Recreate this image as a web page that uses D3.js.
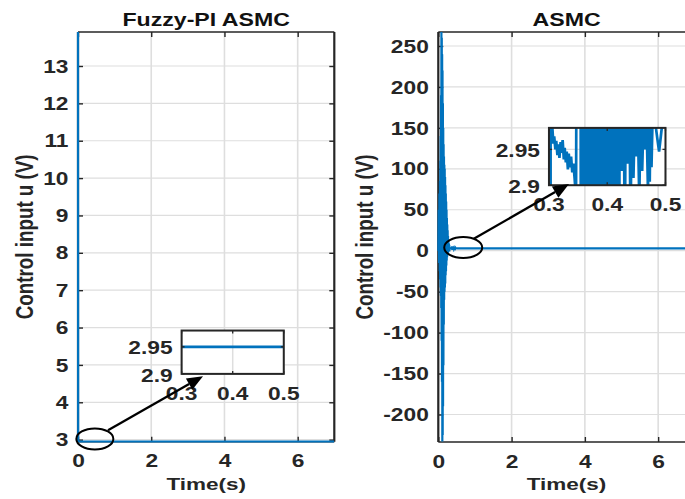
<!DOCTYPE html>
<html>
<head>
<meta charset="utf-8">
<script src="https://cdn.jsdelivr.net/npm/d3@7"></script>
<style>
  body { margin: 0; background: #fff; }
  svg { display: block; }
  text { font-family: "Liberation Sans", Arial, Helvetica, sans-serif; font-weight: bold; }
</style>
</head>
<body>
<svg id="chart" width="685" height="499"></svg>
<script>
// ---------- data ----------
const timeDomain = [0, 7];
const timeTicks = [0, 2, 4, 6];
const fuzzyTicks = [3, 4, 5, 6, 7, 8, 9, 10, 11, 12, 13];
const asmcTicks = [-200, -150, -100, -50, 0, 50, 100, 150, 200, 250];
const insetTimeDomain = [0.3, 0.5];
const insetTimeTicks = [0.3, 0.4, 0.5];
const insetUDomain = [2.9, 2.98];
const insetUTicks = [2.9, 2.95];

// Fuzzy-PI ASMC control input: initial jump, then flat at 2.95 V
const fuzzyTime = [0, 0.004, 0.3, 0.5, 7];
const fuzzyU = [13.91, 2.95, 2.95, 2.95, 2.95];

// ASMC control input samples [time (s), u (V)]
const asmcTrace = [
  [0.000, 0], [0.010, 50], [0.020, -15], [0.030, 70], [0.040, -25], [0.045, 85],
  [0.050, -35], [0.055, 110], [0.060, -45], [0.065, 140], [0.070, -55], [0.075, 190],
  [0.080, -70], [0.085, 267], [0.090, -110], [0.095, 260], [0.100, -160], [0.105, 240],
  [0.110, -233], [0.115, 220], [0.120, -225], [0.125, 180], [0.130, -190], [0.135, 150],
  [0.140, -140], [0.145, 130], [0.150, -90], [0.155, 115], [0.160, -60], [0.165, 105],
  [0.170, -50], [0.175, 100], [0.180, -45], [0.185, 90], [0.190, -40], [0.195, 80],
  [0.200, -30], [0.205, 70], [0.210, -25], [0.215, 60], [0.220, -18], [0.225, 50],
  [0.230, -12], [0.235, 40], [0.240, -8], [0.245, 32], [0.250, -5], [0.255, 25],
  [0.260, -3], [0.265, 18], [0.270, -2], [0.275, 12], [0.280, 0], [0.285, 9],
  [0.290, 1], [0.295, 7],
  [0.3000, 6], [0.3015, -1], [0.3030, 3.5], [0.3055, 2.985], [0.3075, 2.958],
  [0.3090, 2.968], [0.3110, 2.950], [0.3125, 2.962], [0.3145, 2.942], [0.3160, 2.957],
  [0.3180, 2.938], [0.3200, 2.960], [0.3215, 2.945], [0.3235, 2.963], [0.3255, 2.936],
  [0.3270, 2.952], [0.3290, 2.932], [0.3305, 2.947], [0.3325, 2.922], [0.3340, 2.944],
  [0.3360, 2.925], [0.3380, 2.940], [0.3400, 2.918], [0.3420, 2.930], [0.3440, 2.910],
  [0.3465, 2.88], [0.3480, 3.3], [0.3540, 3.4],
  [0.3550, 2.50], [0.3575, 3.60], [0.3600, 2.20], [0.3625, 4.10], [0.3650, 1.90],
  [0.3675, 4.60], [0.3700, 1.60], [0.3725, 5.00], [0.3750, 1.20], [0.3775, 5.30],
  [0.3800, 1.00], [0.3825, 5.50], [0.3850, 0.80], [0.3875, 5.40], [0.3900, 1.00],
  [0.3925, 5.20], [0.3950, 1.30], [0.3975, 4.90], [0.4000, 1.60], [0.4025, 4.60],
  [0.4050, 1.90], [0.4075, 4.20], [0.4100, 2.20], [0.4125, 3.90], [0.4150, 2.40],
  [0.4175, 3.60], [0.4200, 2.60], [0.4225, 3.40], [0.4250, 2.92], [0.4275, 3.20],
  [0.4300, 2.80], [0.4325, 3.10], [0.4350, 2.93], [0.4375, 3.05], [0.4400, 2.85],
  [0.4425, 3.02], [0.4450, 2.91], [0.4475, 3.00], [0.4500, 2.94], [0.4525, 2.99],
  [0.4550, 2.88], [0.4575, 3.01], [0.4600, 2.92], [0.4625, 3.00], [0.4650, 2.95],
  [0.4675, 2.99], [0.4700, 2.89], [0.4715, 3.05], [0.4730, 2.905], [0.4745, 3.02],
  [0.4760, 2.925], [0.4780, 3.00], [0.4820, 2.99], [0.4860, 2.965], [0.4890, 2.947],
  [0.4920, 2.968], [0.4950, 2.99], [0.5000, 2.995], [0.5200, 2.97], [0.6000, 2.952],
  [7.0000, 2.95]
];

// ---------- styling ----------
const BLUE = "#0072BD";
const AXIS = "#262626";
const GRID = "#dedede";
const SX = 1.3;          // horizontal stretch applied to all lettering
const FS_TICK = 17.5;

const svg = d3.select("#chart");
const defs = svg.append("defs");

const panels = [
  {
    title: "Fuzzy-PI ASMC",
    series: d3.zip(fuzzyTime, fuzzyU),
    uDomain: [2.945, 13.91], uTicks: fuzzyTicks,
    box: { left: 78, right: 334.3, top: 32, bottom: 441.7 },
    yLabelX: 33,
    inset: { t: [2.83, 5.62], u: [4.76, 5.92] },
    ring: { t: 0.46, u: 3.02, rx: 18.5, ry: 10.5 },
    arrow: { from: [0.82, 3.25], to: [3.414, 4.70] }
  },
  {
    title: "ASMC",
    series: asmcTrace,
    uDomain: [-233.6, 267.1], uTicks: asmcTicks,
    box: { left: 438.3, right: 694.8, top: 32, bottom: 442 },
    yLabelX: 373,
    inset: { t: [3.02, 6.2], u: [80, 150] },
    ring: { t: 0.68, u: 3.9, rx: 19, ry: 10.5 },
    arrow: { from: [0.97, 14.5], to: [3.567, 81.4] }
  }
];

function stretchText(sel, tx, ty) {
  sel.attr("transform", `translate(${tx},${ty}) scale(${SX},1)`);
}

function styleAxis(a) {
  a.attr("font-size", null).attr("font-family", null).attr("fill", null);
  a.select(".domain").remove();
  a.selectAll(".tick line").attr("stroke", AXIS).attr("stroke-width", 1.4);
  a.selectAll(".tick text").attr("fill", AXIS).attr("font-size", FS_TICK);
  return a;
}

panels.forEach((p, i) => {
  const b = p.box;
  const x = d3.scaleLinear().domain(timeDomain).range([b.left, b.right]);
  const y = d3.scaleLinear().domain(p.uDomain).range([b.bottom, b.top]);
  const g = svg.append("g");

  // grid
  g.append("g").selectAll("line").data(timeTicks).join("line")
    .attr("x1", d => x(d)).attr("x2", d => x(d))
    .attr("y1", b.top).attr("y2", b.bottom)
    .attr("stroke", GRID).attr("stroke-width", 1.6);
  g.append("g").selectAll("line").data(p.uTicks).join("line")
    .attr("x1", b.left).attr("x2", b.right)
    .attr("y1", d => y(d)).attr("y2", d => y(d))
    .attr("stroke", GRID).attr("stroke-width", 1.2);

  // ticks on all four sides, pointing inward
  const fmt = d => String(d);
  const ab = styleAxis(g.append("g").attr("transform", `translate(0,${b.bottom})`)
    .call(d3.axisBottom(x).tickValues(timeTicks).tickSizeInner(-5).tickSizeOuter(0).tickFormat(fmt)));
  ab.selectAll(".tick text").attr("y", null).attr("dy", null)
    .each(function () { stretchText(d3.select(this), 0, 25.5); });
  styleAxis(g.append("g").attr("transform", `translate(0,${b.top})`)
    .call(d3.axisTop(x).tickValues(timeTicks).tickSizeInner(-5).tickSizeOuter(0).tickFormat("")));
  const al = styleAxis(g.append("g").attr("transform", `translate(${b.left},0)`)
    .call(d3.axisLeft(y).tickValues(p.uTicks).tickSizeInner(-5).tickSizeOuter(0).tickFormat(fmt)));
  al.selectAll(".tick text").attr("x", null).attr("dy", "0.35em")
    .each(function () { stretchText(d3.select(this), -9.5, 0); });
  styleAxis(g.append("g").attr("transform", `translate(${b.right},0)`)
    .call(d3.axisRight(y).tickValues(p.uTicks).tickSizeInner(-5).tickSizeOuter(0).tickFormat("")));

  // axes box
  const boxG = g.append("g").attr("stroke", AXIS).attr("fill", "none");
  boxG.append("line").attr("x1", b.left).attr("x2", b.right).attr("y1", b.top).attr("y2", b.top).attr("stroke-width", 1.6);
  boxG.append("line").attr("x1", b.left).attr("x2", b.right).attr("y1", b.bottom).attr("y2", b.bottom).attr("stroke-width", 1.6);
  boxG.append("line").attr("x1", b.left).attr("x2", b.left).attr("y1", b.top).attr("y2", b.bottom).attr("stroke-width", 2.2);
  boxG.append("line").attr("x1", b.right).attr("x2", b.right).attr("y1", b.top).attr("y2", b.bottom).attr("stroke-width", 2.2);

  // data line
  const clipId = "plotClip" + i;
  defs.append("clipPath").attr("id", clipId).append("rect")
    .attr("x", b.left - 2).attr("y", b.top)
    .attr("width", b.right - b.left + 2).attr("height", b.bottom - b.top + 2);
  const line = d3.line().x(d => x(d[0])).y(d => y(d[1]));
  g.append("path").datum(p.series)
    .attr("clip-path", `url(#${clipId})`)
    .attr("d", line)
    .attr("fill", "none").attr("stroke", BLUE).attr("stroke-width", 2.2)
    .attr("stroke-linejoin", "miter");

  // zoomed inset
  const ix0 = x(p.inset.t[0]), ix1 = x(p.inset.t[1]);
  const iy0 = y(p.inset.u[1]), iy1 = y(p.inset.u[0]);
  const ix = d3.scaleLinear().domain(insetTimeDomain).range([ix0, ix1]);
  const iy = d3.scaleLinear().domain(insetUDomain).range([iy1, iy0]);
  const ig = g.append("g");
  ig.append("rect").attr("x", ix0).attr("y", iy0).attr("width", ix1 - ix0).attr("height", iy1 - iy0)
    .attr("fill", "#fff");
  ig.append("g").selectAll("line").data(insetTimeTicks).join("line")
    .attr("x1", d => ix(d)).attr("x2", d => ix(d)).attr("y1", iy0).attr("y2", iy1)
    .attr("stroke", GRID).attr("stroke-width", 1.5);
  ig.append("g").selectAll("line").data(insetUTicks).join("line")
    .attr("x1", ix0).attr("x2", ix1).attr("y1", d => iy(d)).attr("y2", d => iy(d))
    .attr("stroke", GRID).attr("stroke-width", 1.1);
  const iclip = "insetClip" + i;
  defs.append("clipPath").attr("id", iclip).append("rect")
    .attr("x", ix0).attr("y", iy0).attr("width", ix1 - ix0).attr("height", iy1 - iy0);
  const iline = d3.line().x(d => ix(d[0])).y(d => iy(d[1]));
  ig.append("path").datum(p.series)
    .attr("clip-path", `url(#${iclip})`)
    .attr("d", iline)
    .attr("fill", "none").attr("stroke", BLUE).attr("stroke-width", 2.7);
  // inset ticks
  const itk = ig.append("g").attr("stroke", AXIS).attr("stroke-width", 1.3);
  insetTimeTicks.forEach(v => {
    itk.append("line").attr("x1", ix(v)).attr("x2", ix(v)).attr("y1", iy1).attr("y2", iy1 - 3);
    itk.append("line").attr("x1", ix(v)).attr("x2", ix(v)).attr("y1", iy0).attr("y2", iy0 + 3);
  });
  insetUTicks.forEach(v => {
    itk.append("line").attr("x1", ix0).attr("x2", ix0 + 3).attr("y1", iy(v)).attr("y2", iy(v));
    itk.append("line").attr("x1", ix1).attr("x2", ix1 - 3).attr("y1", iy(v)).attr("y2", iy(v));
  });
  ig.append("rect").attr("x", ix0).attr("y", iy0).attr("width", ix1 - ix0).attr("height", iy1 - iy0)
    .attr("fill", "none").attr("stroke", AXIS).attr("stroke-width", 2);
  // inset labels
  insetTimeTicks.forEach(v => {
    ig.append("text").attr("text-anchor", "middle").attr("font-size", FS_TICK).attr("fill", AXIS)
      .text(String(v)).call(s => stretchText(s, ix(v), iy1 + 26));
  });
  insetUTicks.forEach(v => {
    ig.append("text").attr("text-anchor", "end").attr("font-size", FS_TICK).attr("fill", AXIS)
      .attr("dy", "0.35em").text(String(v)).call(s => stretchText(s, ix0 - 9, iy(v) + 1.5));
  });

  // ring around the transient and arrow to the inset
  const an = g.append("g");
  an.append("ellipse").attr("cx", x(p.ring.t)).attr("cy", y(p.ring.u))
    .attr("rx", p.ring.rx).attr("ry", p.ring.ry)
    .attr("fill", "none").attr("stroke", "#000").attr("stroke-width", 2);
  const ax0 = x(p.arrow.from[0]), ay0 = y(p.arrow.from[1]);
  const ax1 = x(p.arrow.to[0]), ay1 = y(p.arrow.to[1]);
  const ang = Math.atan2(ay1 - ay0, ax1 - ax0);
  const headL = 16, headW = 6.5;
  const bx = ax1 - headL * Math.cos(ang), by = ay1 - headL * Math.sin(ang);
  an.append("line").attr("x1", ax0).attr("y1", ay0).attr("x2", bx).attr("y2", by)
    .attr("stroke", "#000").attr("stroke-width", 2.3);
  an.append("path")
    .attr("d", `M${ax1},${ay1}L${bx - headW * Math.sin(ang)},${by + headW * Math.cos(ang)}L${bx + headW * Math.sin(ang)},${by - headW * Math.cos(ang)}Z`)
    .attr("fill", "#000");

  // titles and axis labels
  const cx = (b.left + b.right) / 2;
  g.append("text").attr("text-anchor", "middle").attr("font-size", 17.8).attr("fill", "#111")
    .text(p.title).call(s => stretchText(s, cx, 26));
  g.append("text").attr("text-anchor", "middle").attr("font-size", 17.3).attr("fill", AXIS)
    .text("Time(s)").call(s => stretchText(s, cx, 490));
  g.append("text").attr("text-anchor", "middle").attr("font-size", 18.8).attr("fill", AXIS)
    .attr("transform", `translate(${p.yLabelX},${(b.top + b.bottom) / 2}) rotate(-90) scale(1,${SX})`)
    .text("Control input u (V)");
});
</script>
</body>
</html>
